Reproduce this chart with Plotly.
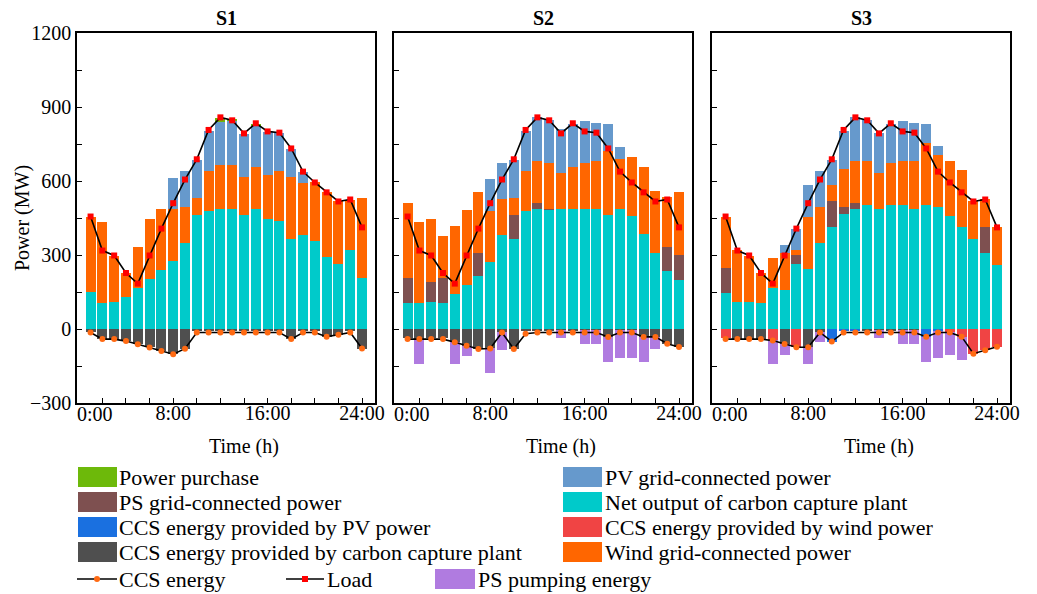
import plotly.graph_objects as go

# ---------------- data ----------------
hours = list(range(1, 25))
scenarios = ["S1", "S2", "S3"]

load = [456, 318, 298, 227, 184, 298, 407, 510, 606, 688, 807, 858,
        846, 793, 834, 801, 796, 732, 638, 594, 554, 517, 525, 412]

# S1
s1_net = [152, 106, 111, 130, 168, 203, 241, 276, 349, 463, 479, 485,
          485, 463, 485, 444, 439, 365, 382, 355, 290, 265, 322, 208]
s1_ps = [0] * 24
s1_wind = [304, 326, 185, 97, 165, 244, 246, 209, 146, 70, 160, 178,
           181, 152, 173, 181, 200, 252, 208, 239, 266, 252, 202, 324]
s1_pv = [0, 0, 0, 0, 0, 0, 0, 128, 147, 153, 165, 176,
         179, 177, 169, 175, 157, 114, 48, 0, 0, 0, 0, 0]
s1_buy = [0, 0, 0, 0, 0, 0, 0, 0, 0, 0, 0, 18,
          4, 0, 6, 0, 0, 0, 0, 0, 0, 0, 0, 0]
s1_ccs_plant = [-13, -41, -41, -49, -61, -74, -88, -101, -81, -5, -5, -5,
                -5, -5, -5, -5, -5, -41, -5, -5, -31, -23, -5, -81]
s1_ccs_pv = [0] * 24
s1_ccs_wind = [0] * 24
s1_pump = [0] * 24
s1_ccs = [-14, -41, -41, -49, -62, -75, -89, -102, -80, -14, -14, -14,
          -14, -14, -14, -14, -14, -41, -14, -14, -31, -23, -14, -79]

# S2
s2_net = [106, 106, 111, 106, 143, 179, 215, 273, 382, 365, 479, 485,
          485, 485, 485, 485, 485, 463, 485, 460, 387, 309, 236, 200]
s2_ps = [102, 0, 81, 102, 0, 0, 95, 0, 0, 98, 0, 24,
         2, 0, 0, 0, 0, 0, 0, 0, 0, 0, 97, 98]
s2_wind = [304, 326, 255, 170, 275, 304, 246, 206, 146, 70, 160, 173,
           184, 149, 173, 186, 195, 257, 205, 236, 268, 251, 203, 258]
s2_pv = [0, 0, 0, 0, 0, 0, 0, 130, 146, 153, 165, 176,
         175, 178, 175, 174, 157, 113, 49, 0, 0, 0, 0, 0]
s2_buy = [0] * 24
s2_ccs_plant = [-38, -41, -38, -38, -54, -68, -81, -79, -14, -81, -7, -5,
                -5, -5, -5, -5, -5, -32, -5, -5, -32, -32, -60, -73]
s2_ccs_pv = [0] * 24
s2_ccs_wind = [0] * 24
s2_pump = [0, -100, 0, 0, -87, -40, 0, -98, -71, 0, 0, 0,
           0, -30, 0, -55, -55, -101, -111, -111, -101, -49, 0, 0]
s2_ccs = [-41, -41, -41, -41, -54, -68, -81, -79, -14, -81, -19, -14,
          -14, -14, -14, -14, -14, -32, -14, -14, -32, -32, -60, -73]

# S3
s3_net = [146, 111, 111, 106, 168, 160, 265, 244, 349, 414, 468, 485,
          501, 485, 501, 501, 485, 501, 495, 460, 412, 363, 309, 260]
s3_ps = [103, 0, 0, 0, 0, 0, 36, 0, 0, 103, 27, 24,
         0, 0, 0, 0, 0, 0, 0, 0, 0, 0, 103, 0]
s3_wind = [206, 211, 184, 121, 118, 149, 21, 211, 146, 65, 155, 173,
           181, 149, 173, 181, 195, 252, 212, 222, 234, 154, 116, 152]
s3_pv = [0, 0, 0, 0, 0, 32, 84, 130, 147, 104, 154, 176,
         164, 159, 159, 163, 157, 80, 36, 0, 0, 0, 0, 0]
s3_buy = [0] * 24
s3_ccs_plant = [0, -41, -41, -41, 0, -61, 0, -72, -14, 0, 0, 0,
                -5, -5, -5, -5, -5, 0, 0, 0, 0, 0, 0, 0]
s3_ccs_pv = [0, 0, 0, 0, 0, 0, 0, 0, 0, -51, -10, -5,
             0, 0, 0, 0, 0, -31, -10, 0, 0, 0, 0, 0]
s3_ccs_wind = [-38, 0, 0, 0, -45, 0, -74, 0, 0, 0, 0, 0,
               0, 0, 0, 0, 0, 0, 0, -14, -31, -100, -87, -72]
s3_pump = [0, 0, 0, 0, -98, -43, 0, -71, -37, 0, 0, 0,
           0, -30, 0, -56, -56, -101, -106, -90, -93, 0, 0, 0]
s3_ccs = [-41, -41, -41, -41, -47, -61, -74, -74, -14, -51, -14, -14,
          -14, -14, -14, -14, -14, -31, -14, -14, -31, -100, -86, -72]

x_tick_vals = [2, 4, 6, 8, 10, 12, 14, 16, 18, 20, 22, 24]
x_tick_text = ["", "", "", "8:00", "", "", "", "16:00", "", "", "", "24:00"]
y_tick_vals = [-300, 0, 300, 600, 900, 1200]

names = {
    "buy": "Power purchase",
    "pv": "PV grid-connected power",
    "ps": "PS grid-connected power",
    "net": "Net output of carbon capture plant",
    "ccs_pv": "CCS energy provided by PV power",
    "ccs_wind": "CCS energy provided by wind power",
    "ccs_plant": "CCS energy provided by carbon capture plant",
    "wind": "Wind grid-connected power",
    "ccs": "CCS energy",
    "load": "Load",
    "pump": "PS pumping energy",
}
colors = {
    "buy": "#6DB90A",
    "pv": "#6699CC",
    "ps": "#7E5050",
    "net": "#00CACA",
    "ccs_pv": "#1A70E0",
    "ccs_wind": "#F04444",
    "ccs_plant": "#4F4F4F",
    "wind": "#FF6600",
    "pump": "#B07BE0",
    "ccs_marker": "#FF6A13",
    "load_marker": "#FF0000",
}

data = {
    "S1": dict(net=s1_net, ps=s1_ps, wind=s1_wind, pv=s1_pv, buy=s1_buy,
               ccs_plant=s1_ccs_plant, ccs_pv=s1_ccs_pv, ccs_wind=s1_ccs_wind,
               pump=s1_pump, ccs=s1_ccs),
    "S2": dict(net=s2_net, ps=s2_ps, wind=s2_wind, pv=s2_pv, buy=s2_buy,
               ccs_plant=s2_ccs_plant, ccs_pv=s2_ccs_pv, ccs_wind=s2_ccs_wind,
               pump=s2_pump, ccs=s2_ccs),
    "S3": dict(net=s3_net, ps=s3_ps, wind=s3_wind, pv=s3_pv, buy=s3_buy,
               ccs_plant=s3_ccs_plant, ccs_pv=s3_ccs_pv, ccs_wind=s3_ccs_wind,
               pump=s3_pump, ccs=s3_ccs),
}

# ---------------- layout geometry ----------------
W, H = 1037, 594
FONT = "Liberation Serif, Times New Roman, serif"
panel_px = [(77, 375), (394, 692), (712, 1010)]
top_px, bot_px = 33, 403
XR = [-0.15, 25.1]

fig = go.Figure()
bar_order = ["net", "ps", "wind", "pv", "buy", "ccs_plant", "ccs_pv", "ccs_wind", "pump"]

for i, s in enumerate(scenarios):
    xa = "x" if i == 0 else f"x{i+1}"
    ya = "y" if i == 0 else f"y{i+1}"
    d = data[s]
    for key in bar_order:
        fig.add_trace(go.Bar(x=hours, y=d[key], name=names[key], width=0.84,
                             marker=dict(color=colors[key], line=dict(width=0)),
                             xaxis=xa, yaxis=ya, showlegend=False))
    fig.add_trace(go.Scatter(x=hours, y=d["ccs"], mode="lines+markers", name=names["ccs"],
                             line=dict(color="black", width=1.6),
                             marker=dict(symbol="circle", size=6, color=colors["ccs_marker"]),
                             xaxis=xa, yaxis=ya, showlegend=False))
    fig.add_trace(go.Scatter(x=hours, y=load, mode="lines+markers", name=names["load"],
                             line=dict(color="black", width=1.6),
                             marker=dict(symbol="square", size=6, color=colors["load_marker"]),
                             xaxis=xa, yaxis=ya, showlegend=False))

axis_common = dict(showline=True, linecolor="black", linewidth=1.6, mirror=True,
                   showgrid=False, zeroline=False, ticks="inside", tickcolor="black",
                   ticklen=5, tickwidth=1.3, automargin=False,
                   tickfont=dict(family=FONT, size=20, color="black"))

layout = dict(width=W, height=H,
              margin=dict(l=0, r=0, t=0, b=0, pad=0, autoexpand=False),
              paper_bgcolor="white", plot_bgcolor="white",
              barmode="relative", bargap=0, showlegend=False,
              font=dict(family=FONT, color="black"))

ydom = [1 - bot_px / H, 1 - top_px / H]
annotations = []
shapes = []
for i, s in enumerate(scenarios):
    x0, x1 = panel_px[i]
    xk = "xaxis" if i == 0 else f"xaxis{i+1}"
    yk = "yaxis" if i == 0 else f"yaxis{i+1}"
    xa = "x" if i == 0 else f"x{i+1}"
    layout[xk] = dict(axis_common, domain=[x0 / W, x1 / W], range=XR,
                      anchor="y" if i == 0 else f"y{i+1}",
                      tickmode="array", tickvals=x_tick_vals, ticktext=x_tick_text,
                      ticklabelstandoff=-9)
    layout[yk] = dict(axis_common, domain=ydom, range=[-300, 1200],
                      anchor=xa, tickmode="array", tickvals=y_tick_vals,
                      showticklabels=(i == 0),
                      minor=dict(tickmode="array", tickvals=[-150, 150, 450, 750, 1050],
                                 ticks="inside", ticklen=5, tickcolor="black", tickwidth=1.3))
    # subplot title
    annotations.append(dict(text=f"<b>{s}</b>", xref="paper", yref="paper",
                            x=(x0 + x1) / 2 / W, y=1 - 18 / H, showarrow=False,
                            xanchor="center", yanchor="middle",
                            font=dict(family=FONT, size=20, color="black")))
    # shifted 0:00 label
    annotations.append(dict(text="0:00", xref=xa, yref="paper", x=1.35, y=1 - 414 / H,
                            showarrow=False, xanchor="center", yanchor="middle",
                            font=dict(family=FONT, size=20, color="black")))
    # x title
    annotations.append(dict(text="Time (h)", xref=xa, yref="paper", x=14.0, y=1 - 446 / H,
                            showarrow=False, xanchor="center", yanchor="middle",
                            font=dict(family=FONT, size=20, color="black")))

annotations.append(dict(text="Power (MW)", xref="paper", yref="paper", x=22 / W,
                        y=1 - 218 / H, showarrow=False, textangle=-90,
                        xanchor="center", yanchor="middle",
                        font=dict(family=FONT, size=20, color="black")))

# ---------------- manual legend ----------------
def py(v):
    return 1 - v / H

def px(v):
    return v / W

LEG_FS = 22
leg_rows = [477, 502, 527, 552]
left_keys = ["buy", "ps", "ccs_pv", "ccs_plant"]
right_keys = ["pv", "net", "ccs_wind", "wind"]
for r, yc in enumerate(leg_rows):
    for keys, sx0, sx1, tx in ((left_keys, 78, 117, 117), (right_keys, 563, 602, 603)):
        k = keys[r]
        shapes.append(dict(type="rect", xref="paper", yref="paper",
                           x0=px(sx0), x1=px(sx1), y0=py(yc + 10), y1=py(yc - 10),
                           fillcolor=colors[k], line=dict(width=0)))
        annotations.append(dict(text=names[k], xref="paper", yref="paper", x=px(tx), y=py(yc),
                                showarrow=False, xanchor="left", yanchor="middle",
                                font=dict(family=FONT, size=LEG_FS, color="black")))

y5 = 579
# CCS energy line entry
shapes.append(dict(type="line", xref="paper", yref="paper", x0=px(77), x1=px(117),
                   y0=py(y5), y1=py(y5), line=dict(color="black", width=1.6)))
shapes.append(dict(type="circle", xref="paper", yref="paper", x0=px(94), x1=px(100),
                   y0=py(y5 + 3), y1=py(y5 - 3), fillcolor=colors["ccs_marker"], line=dict(width=0)))
annotations.append(dict(text=names["ccs"], xref="paper", yref="paper", x=px(117), y=py(y5),
                        showarrow=False, xanchor="left", yanchor="middle",
                        font=dict(family=FONT, size=LEG_FS, color="black")))
# Load line entry
shapes.append(dict(type="line", xref="paper", yref="paper", x0=px(286), x1=px(324),
                   y0=py(y5), y1=py(y5), line=dict(color="black", width=1.6)))
shapes.append(dict(type="rect", xref="paper", yref="paper", x0=px(302), x1=px(308),
                   y0=py(y5 + 3), y1=py(y5 - 3), fillcolor=colors["load_marker"], line=dict(width=0)))
annotations.append(dict(text=names["load"], xref="paper", yref="paper", x=px(325), y=py(y5),
                        showarrow=False, xanchor="left", yanchor="middle",
                        font=dict(family=FONT, size=LEG_FS, color="black")))
# PS pumping entry
shapes.append(dict(type="rect", xref="paper", yref="paper", x0=px(435), x1=px(475),
                   y0=py(y5 + 10), y1=py(y5 - 10), fillcolor=colors["pump"], line=dict(width=0)))
annotations.append(dict(text=names["pump"], xref="paper", yref="paper", x=px(476), y=py(y5),
                        showarrow=False, xanchor="left", yanchor="middle",
                        font=dict(family=FONT, size=LEG_FS, color="black")))

layout["annotations"] = annotations
layout["shapes"] = shapes
fig.update_layout(**layout)
fig.write_html("out.html")
